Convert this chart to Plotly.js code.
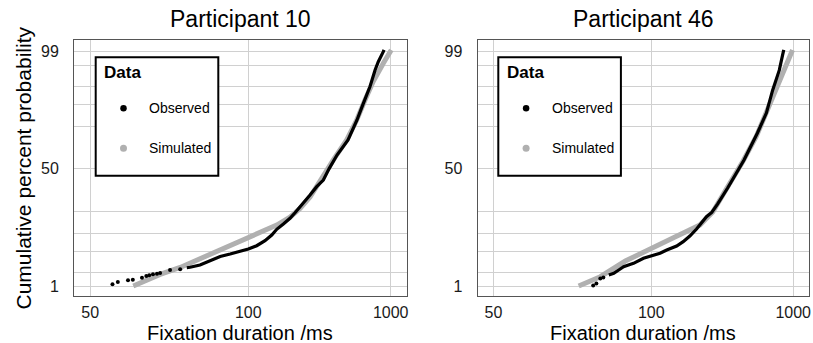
<!DOCTYPE html>
<html><head><meta charset="utf-8">
<script src="https://cdn.plot.ly/plotly-3.0.1.min.js"></script>
<style>html,body{margin:0;padding:0;background:#fff}#chart{width:813px;height:343px}</style>
</head><body><div id="chart"></div>
<script>
// ---------- data (fixation duration in ms, cumulative percent) ----------
const panelTitles = ['Participant 10', 'Participant 46'];
const seriesNames = ['Observed', 'Simulated'];
const legendTitle = 'Data';
const xTitle = 'Fixation duration /ms';
const yTitle = 'Cumulative percent probability';

const xTickMs = [50, 100, 1000];
const xTickLabels = ['50', '100', '1000'];
const yGridPct = [1, 2, 5, 10, 20, 50, 80, 90, 95, 98, 99];
const yTickLabels = ['1', '', '', '', '', '50', '', '', '', '', '99'];

// Participant 10 — observed, sparse fast tail (dots)
const p10TailMs  = [53.8, 54.8, 56.8, 57.8, 59.8, 60.8, 61.5, 62.4, 63.4, 64.2, 66.9, 69.9];
const p10TailPct = [1.09, 1.23, 1.35, 1.39, 1.53, 1.67, 1.73, 1.81, 1.87, 1.93, 2.23, 2.30];
// Participant 10 — observed, dense body
const p10ObsMs  = [72.0, 73.1, 76.6, 80.5, 84.9, 89.7, 95.1, 100, 105.6, 111.8, 117.4, 121.9, 128.5, 135.8, 141.9, 151, 164, 176.2, 190.2, 204.2, 227.7, 270.5, 319.7, 355.6, 433.6, 502.4, 561.2, 682.2, 703.4];
const p10ObsPct = [2.48, 2.53, 2.81, 3.36, 4.09, 4.54, 5.00, 5.57, 6.35, 7.68, 9.45, 11.5, 13.7, 16.3, 19.2, 23.6, 30.2, 36.2, 41.2, 50, 60.8, 71.7, 83.4, 89.1, 94.9, 97.5, 98.33, 99.0, 99.09];
// Participant 10 — simulated
const p10SimMs  = [57.9, 64.2, 69.9, 76.6, 84.9, 95.1, 108, 121.9, 135.8, 148.6, 164, 183, 198.8, 216.2, 264.6, 317.8, 381.3, 476.7, 682.2, 1040];
const p10SimPct = [1.0, 1.80, 2.51, 3.72, 5.40, 7.60, 10.3, 13.2, 16.9, 21.6, 28.8, 40.5, 50, 57.0, 71.7, 83.4, 91.4, 95.9, 98.2, 99.09];

// Participant 46 — observed, sparse fast tail
const p46TailMs  = [73.1, 74.2, 75.6, 76.7];
const p46TailPct = [1.03, 1.14, 1.47, 1.55];
// Participant 46 — observed, dense body
const p46ObsMs  = [78.8, 80.8, 82.9, 85.1, 87.4, 89.9, 95.3, 99.3, 105.9, 110.9, 119.2, 125.4, 132.4, 140.3, 153.9, 162.2, 172.8, 193.9, 242.8, 306, 370.1, 433.8, 531.1, 597, 625.2];
const p46ObsPct = [1.75, 1.90, 2.23, 2.60, 2.81, 3.03, 3.79, 4.09, 4.68, 5.36, 6.28, 7.40, 9.12, 11.6, 17.1, 19.3, 24.3, 35.2, 57.0, 76.2, 86.6, 94.1, 97.5, 98.81, 99.09];
// Participant 46 — simulated
const p46SimMs  = [68.5, 75.6, 85.9, 99.3, 117.7, 144.5, 163.9, 190.9, 238.4, 298.5, 367.6, 478.3, 637.7, 956.6];
const p46SimPct = [1.0, 1.61, 3.36, 5.69, 8.80, 13.2, 19.6, 34.5, 55.8, 73.8, 86.5, 94.1, 97.5, 99.09];

// ---------- reciprobit scales ----------
function probit(p) {
  const a=[-3.969683028665376e+01,2.209460984245205e+02,-2.759285104469687e+02,1.383577518672690e+02,-3.066479806614716e+01,2.506628277459239e+00];
  const b=[-5.447609879822406e+01,1.615858368580409e+02,-1.556989798598866e+02,6.680131188771972e+01,-1.328068155288572e+01];
  const c=[-7.784894002430293e-03,-3.223964580411365e-01,-2.400758277161838e+00,-2.549732539343734e+00,4.374664141464968e+00,2.938163982698783e+00];
  const d=[7.784695709041462e-03,3.224671290700398e-01,2.445134137142996e+00,3.754408661907416e+00];
  const pl = 0.02425, ph = 1 - pl; let q, r;
  if (p < pl) { q = Math.sqrt(-2*Math.log(p)); return (((((c[0]*q+c[1])*q+c[2])*q+c[3])*q+c[4])*q+c[5])/((((d[0]*q+d[1])*q+d[2])*q+d[3])*q+1); }
  if (p <= ph) { q = p - 0.5; r = q*q; return (((((a[0]*r+a[1])*r+a[2])*r+a[3])*r+a[4])*r+a[5])*q/(((((b[0]*r+b[1])*r+b[2])*r+b[3])*r+b[4])*r+1); }
  q = Math.sqrt(-2*Math.log(1-p)); return -(((((c[0]*q+c[1])*q+c[2])*q+c[3])*q+c[4])*q+c[5])/((((d[0]*q+d[1])*q+d[2])*q+d[3])*q+1);
}
const rx = ms => ms.map(t => -1 / t);
const ry = pct => pct.map(v => probit(v / 100));

const OBS = '#000000', SIM = '#b0b0b0';
function panelTraces(tailMs, tailPct, obsMs, obsPct, simMs, simPct, xa, ya) {
  return [
    {type:'scatter', mode:'lines', x:rx(simMs), y:ry(simPct), xaxis:xa, yaxis:ya,
     line:{color:SIM, width:5}, name:seriesNames[1], showlegend:false, hoverinfo:'skip'},
    {type:'scatter', mode:'lines', x:rx(obsMs), y:ry(obsPct), xaxis:xa, yaxis:ya,
     line:{color:OBS, width:3.2}, name:seriesNames[0], showlegend:false, hoverinfo:'skip'},
    {type:'scatter', mode:'markers', x:rx(tailMs), y:ry(tailPct), xaxis:xa, yaxis:ya,
     marker:{color:OBS, size:4}, name:seriesNames[0], showlegend:false, hoverinfo:'skip'}
  ];
}
const data = [
  ...panelTraces(p10TailMs, p10TailPct, p10ObsMs, p10ObsPct, p10SimMs, p10SimPct, 'x', 'y'),
  ...panelTraces(p46TailMs, p46TailPct, p46ObsMs, p46ObsPct, p46SimMs, p46SimPct, 'x2', 'y2')
];

// ---------- layout ----------
const W = 813, H = 343;
const px = v => v / W, py = v => 1 - v / H;
const FONT = 'Liberation Sans, Arial, Helvetica, sans-serif';
function xAxis(l, r, anchor) {
  return {domain:[px(l), px(r)], anchor, range:[-0.021, 0], tickmode:'array',
    tickvals:rx(xTickMs), ticktext:xTickLabels, showgrid:true, gridcolor:'#d0d0d0', gridwidth:1,
    zeroline:false, showline:true, mirror:true, linecolor:'#555', linewidth:1.2,
    ticks:'outside', ticklen:2, tickcolor:'rgba(0,0,0,0)', tickfont:{size:16, color:'#1a1a1a'}, fixedrange:true};
}
function yAxis(anchor) {
  return {domain:[py(296), py(40)], anchor, range:[-2.525, 2.559], tickmode:'array',
    tickvals:ry(yGridPct), ticktext:yTickLabels, showgrid:true, gridcolor:'#d0d0d0', gridwidth:1,
    zeroline:false, showline:true, mirror:true, linecolor:'#555', linewidth:1.2,
    ticks:'outside', ticklen:11, tickcolor:'rgba(0,0,0,0)', tickfont:{size:16, color:'#1a1a1a'}, fixedrange:true};
}

const panels = [{l:74.3, r:406.5, box:95.7}, {l:477.7, r:809, box:498.3}];
const annotations = [], shapes = [];
panels.forEach((p, i) => {
  const cx = (p.l + p.r) / 2;
  annotations.push({text:panelTitles[i], x:px(cx), y:py(18.5), xref:'paper', yref:'paper',
    xanchor:'center', yanchor:'middle', showarrow:false, font:{size:23, color:'#000'}});
  annotations.push({text:xTitle, x:px(cx), y:py(333), xref:'paper', yref:'paper',
    xanchor:'center', yanchor:'middle', showarrow:false, font:{size:20, color:'#000'}});
  // legend box
  shapes.push({type:'rect', xref:'paper', yref:'paper', x0:px(p.box), x1:px(p.box+122.6),
    y0:py(57.3), y1:py(175.7), line:{color:'#000', width:2}, fillcolor:'#fff', layer:'above'});
  annotations.push({text:'<b>'+legendTitle+'</b>', x:px(p.box+6.5), y:py(72), xref:'paper', yref:'paper',
    xanchor:'left', yanchor:'middle', showarrow:false, font:{size:17, color:'#000'}});
  [[108.3, OBS, 6.5], [148.3, SIM, 7]].forEach(([yy, col, dia], k) => {
    shapes.push({type:'circle', xref:'paper', yref:'paper', xsizemode:'pixel', ysizemode:'pixel',
      xanchor:px(p.box+27.8), yanchor:py(yy), x0:-dia/2, x1:dia/2, y0:-dia/2, y1:dia/2,
      fillcolor:col, line:{width:0}, layer:'above'});
    annotations.push({text:seriesNames[k], x:px(p.box+51.5), y:py(yy), xref:'paper', yref:'paper',
      xanchor:'left', yanchor:'middle', showarrow:false, font:{size:14, color:'#000'}});
  });
});
annotations.push({text:yTitle, x:px(22.5), y:py(168), xref:'paper', yref:'paper', textangle:-90,
  xanchor:'center', yanchor:'middle', showarrow:false, font:{size:21, color:'#000'}});

const layout = {
  width:W, height:H, margin:{l:0, r:0, t:0, b:0}, paper_bgcolor:'#fff', plot_bgcolor:'#fff',
  font:{family:FONT, color:'#000'}, showlegend:false,
  xaxis:xAxis(panels[0].l, panels[0].r, 'y'), yaxis:yAxis('x'),
  xaxis2:xAxis(panels[1].l, panels[1].r, 'y2'), yaxis2:yAxis('x2'),
  annotations, shapes
};
Plotly.newPlot('chart', data, layout, {staticPlot:true, displayModeBar:false});
</script></body></html>
